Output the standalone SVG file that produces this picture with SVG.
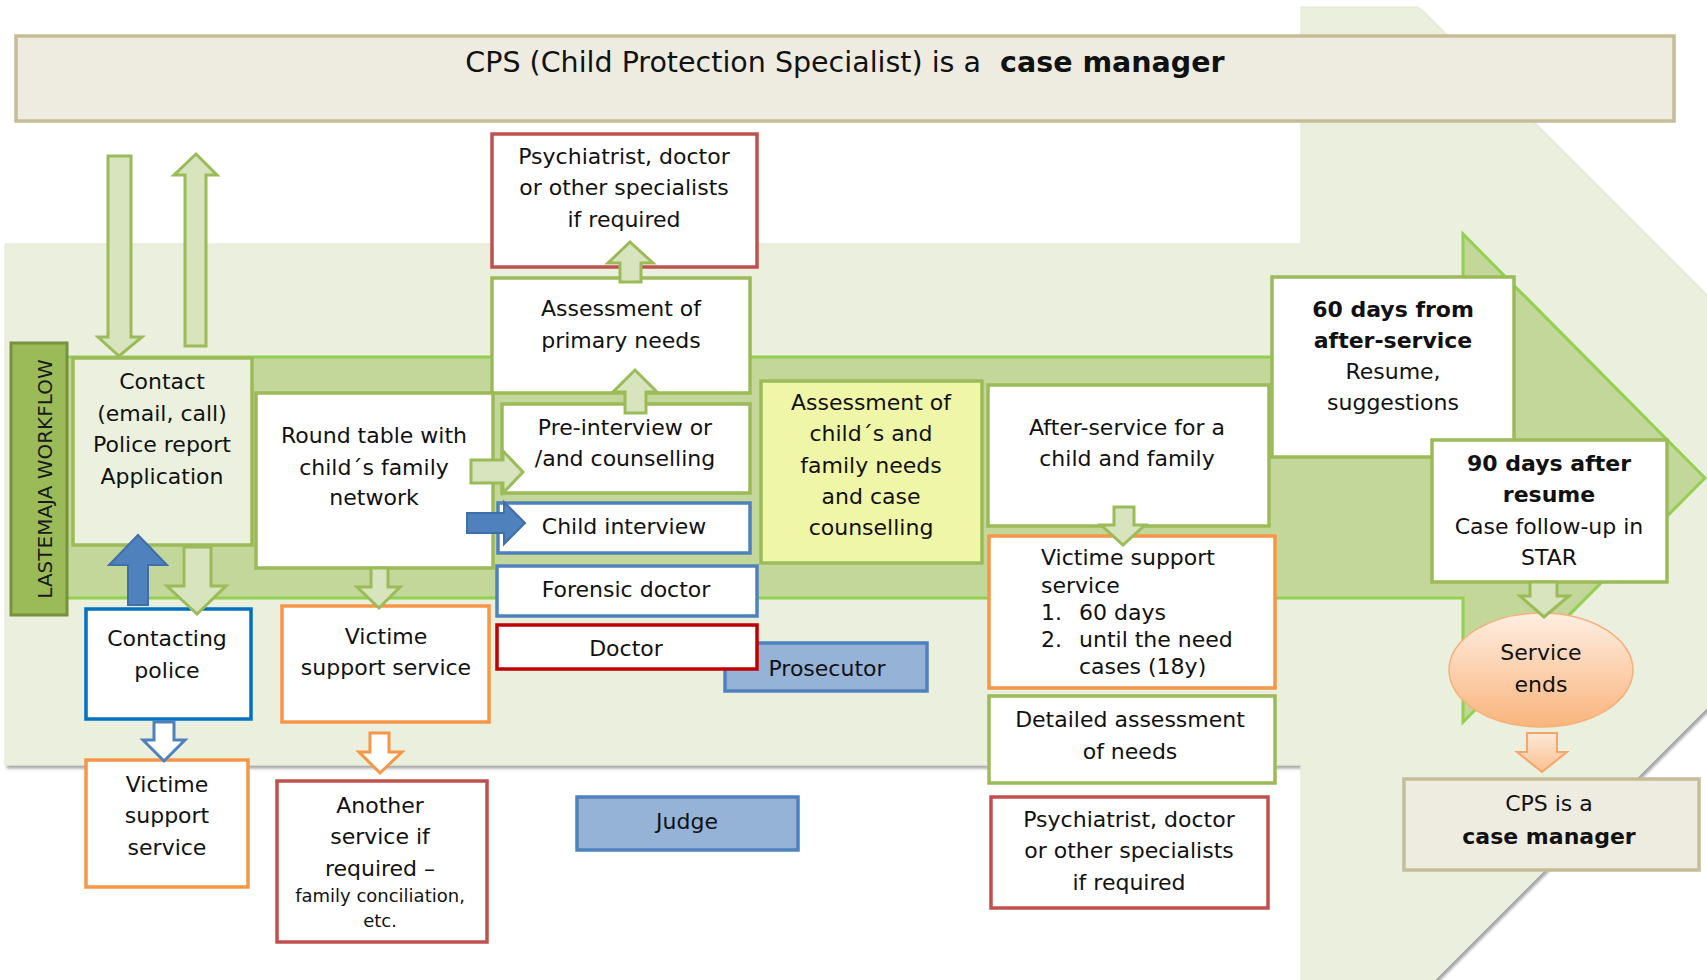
<svg xmlns="http://www.w3.org/2000/svg" width="1707" height="980" viewBox="0 0 1707 980">
<style>
.t{font-family:"DejaVu Sans",Verdana,sans-serif;font-size:22px;fill:#111;text-anchor:middle}
.l{text-anchor:start}
.bd{font-weight:bold}
.sm{font-size:18px}
.box{fill:#fff;stroke-width:3.5}
.g{stroke:#9BBB59}
.o{stroke:#F79646}
.r{stroke:#C0504D}
.dr{stroke:#C00000}
.bl{stroke:#4F81BD}
.cb{stroke:#0070C0}
.pl{fill:#95B3D7;stroke:#4F81BD;stroke-width:3.5}
.arG{fill:#D7E4BD;stroke:#9BBB59;stroke-width:3;stroke-linejoin:miter}
.arB{fill:#4F81BD;stroke:#3F6EA8;stroke-width:2}
.arBo{fill:#fff;stroke:#4F81BD;stroke-width:3}
.arO{fill:#fff;stroke:#F79646;stroke-width:3}
</style>
<defs>
<filter id="sh" x="-5%" y="-5%" width="110%" height="110%">
<feDropShadow dx="2" dy="3" stdDeviation="1.5" flood-color="#000" flood-opacity="0.35"/>
</filter>
<linearGradient id="og" x1="0" y1="0" x2="0" y2="1">
<stop offset="0" stop-color="#FEEEE2"/>
<stop offset="1" stop-color="#F9B47C"/>
</linearGradient>
<linearGradient id="og2" x1="0" y1="0" x2="0" y2="1">
<stop offset="0" stop-color="#FDE9D9"/>
<stop offset="1" stop-color="#FABF8F"/>
</linearGradient>
</defs>

<g id="background">
<polygon points="5,244 1301,244 1301,7 1418,7 1913,502 1430,985 1301,985 1301,765 5,765" fill="#EBEFDD" stroke="#E0E7CE" stroke-width="1" filter="url(#sh)"/>
<polygon points="30,357 1463,357 1463,234 1705,478 1463,722 1463,598 30,598" fill="#C4D79B" stroke="#92D050" stroke-width="3"/>
</g>

<g id="title">
<rect x="16" y="36" width="1658" height="85" fill="#EEECE1" stroke="#C4BD97" stroke-width="3.5"/>
<text class="t" x="845" y="72" style="font-size:28.5px">CPS (Child Protection Specialist) is a <tspan dx="10" font-weight="bold">case manager</tspan></text>
</g>

<g id="lastemaja">
<rect x="11" y="343" width="56" height="272" fill="#9BBB59" stroke="#76923C" stroke-width="3"/>
<text class="t" transform="translate(52,479) rotate(-90)" style="font-size:20px;fill:#1a1a1a">LASTEMAJA WORKFLOW</text>
</g>

<g id="psych-top">
<rect class="box r" x="492" y="134" width="265" height="133"/>
<text class="t" x="624" y="164">Psychiatrist, doctor</text>
<text class="t" x="624" y="195">or other specialists</text>
<text class="t" x="624" y="227">if required</text>
</g>

<g id="assessment-primary">
<rect class="box g" x="492" y="278" width="258" height="115"/>
<text class="t" x="621" y="316">Assessment of</text>
<text class="t" x="621" y="348">primary needs</text>
</g>

<g id="contact">
<rect x="73" y="358" width="179" height="187" fill="#EBF1DE" stroke="#9BBB59" stroke-width="3.5"/>
<text class="t" x="162" y="389">Contact</text>
<text class="t" x="162" y="421">(email, call)</text>
<text class="t" x="162" y="452">Police report</text>
<text class="t" x="162" y="484">Application</text>
</g>

<g id="round-table">
<rect class="box g" x="256" y="393" width="237" height="175"/>
<text class="t" x="374" y="443">Round table with</text>
<text class="t" x="374" y="475">child´s family</text>
<text class="t" x="374" y="505">network</text>
</g>

<g id="pre-interview">
<rect class="box g" x="502" y="404" width="248" height="89"/>
<text class="t" x="625" y="435">Pre-interview or</text>
<text class="t" x="625" y="466">/and counselling</text>
</g>

<g id="child-interview">
<rect class="box bl" x="498" y="503" width="252" height="50"/>
<text class="t" x="624" y="534">Child interview</text>
</g>

<g id="forensic-doctor">
<rect class="box bl" x="497" y="566" width="260" height="50"/>
<text class="t" x="626" y="597">Forensic doctor</text>
</g>

<g id="prosecutor">
<rect class="pl" x="725" y="643" width="202" height="48"/>
<text class="t" x="827" y="676">Prosecutor</text>
</g>

<g id="doctor">
<rect class="box dr" x="497" y="625" width="260" height="44"/>
<text class="t" x="626" y="656">Doctor</text>
</g>

<g id="assessment-family">
<rect x="761" y="381" width="221" height="182" fill="#F0F6A8" stroke="#9BBB59" stroke-width="3.5"/>
<text class="t" x="871" y="410">Assessment of</text>
<text class="t" x="871" y="441">child´s and</text>
<text class="t" x="871" y="473">family needs</text>
<text class="t" x="871" y="504">and case</text>
<text class="t" x="871" y="535">counselling</text>
</g>

<g id="after-service">
<rect class="box g" x="988" y="385" width="281" height="141"/>
<text class="t" x="1127" y="435">After-service for a</text>
<text class="t" x="1127" y="466">child and family</text>
</g>

<g id="victime-right">
<rect class="box o" x="989" y="536" width="286" height="152"/>
<text class="t l" x="1041" y="565">Victime support</text>
<text class="t l" x="1041" y="593">service</text>
<text class="t l" x="1041" y="620">1.</text>
<text class="t l" x="1079" y="620">60 days</text>
<text class="t l" x="1041" y="647">2.</text>
<text class="t l" x="1079" y="647">until the need</text>
<text class="t l" x="1079" y="674">cases (18y)</text>
</g>

<g id="detailed-assessment">
<rect class="box g" x="989" y="696" width="286" height="87"/>
<text class="t" x="1130" y="727">Detailed assessment</text>
<text class="t" x="1130" y="759">of needs</text>
</g>

<g id="psych-bottom">
<rect class="box r" x="991" y="797" width="277" height="111"/>
<text class="t" x="1129" y="827">Psychiatrist, doctor</text>
<text class="t" x="1129" y="858">or other specialists</text>
<text class="t" x="1129" y="890">if required</text>
</g>

<g id="sixty-days">
<rect class="box g" x="1272" y="277" width="242" height="180"/>
<text class="t bd" x="1393" y="317">60 days from</text>
<text class="t bd" x="1393" y="348">after-service</text>
<text class="t" x="1393" y="379">Resume,</text>
<text class="t" x="1393" y="410">suggestions</text>
</g>

<g id="ninety-days">
<rect class="box g" x="1432" y="440" width="235" height="142"/>
<text class="t bd" x="1549" y="471">90 days after</text>
<text class="t bd" x="1549" y="502">resume</text>
<text class="t" x="1549" y="534">Case follow-up in</text>
<text class="t" x="1549" y="565">STAR</text>
</g>

<g id="service-ends">
<ellipse cx="1541" cy="670" rx="92" ry="57" fill="url(#og)" stroke="#F7B07A" stroke-width="1.5"/>
<text class="t" x="1541" y="660">Service</text>
<text class="t" x="1541" y="692">ends</text>
</g>

<g id="cps-manager">
<rect x="1404" y="779" width="295" height="91" fill="#EEECE1" stroke="#C4BD97" stroke-width="3.5"/>
<text class="t" x="1549" y="811">CPS is a</text>
<text class="t bd" x="1549" y="844">case manager</text>
</g>

<g id="contacting-police">
<rect class="box cb" x="86" y="609" width="165" height="110"/>
<text class="t" x="167" y="646">Contacting</text>
<text class="t" x="167" y="678">police</text>
</g>

<g id="victime-mid">
<rect class="box o" x="282" y="606" width="207" height="116"/>
<text class="t" x="386" y="644">Victime</text>
<text class="t" x="386" y="675">support service</text>
</g>

<g id="victime-low">
<rect class="box o" x="86" y="760" width="162" height="127"/>
<text class="t" x="167" y="792">Victime</text>
<text class="t" x="167" y="823">support</text>
<text class="t" x="167" y="855">service</text>
</g>

<g id="another-service">
<rect class="box r" x="277" y="781" width="210" height="161"/>
<text class="t" x="380" y="813">Another</text>
<text class="t" x="380" y="844">service if</text>
<text class="t" x="380" y="876">required –</text>
<text class="t sm" x="380" y="902">family conciliation,</text>
<text class="t sm" x="380" y="927">etc.</text>
</g>

<g id="judge">
<rect class="pl" x="577" y="797" width="221" height="53"/>
<text class="t" x="687" y="829">Judge</text>
</g>

<g id="connectors">
<polygon class="arG" points="108,156 131,156 131,337 142,337 119,356 98,337 108,337"/>
<polygon class="arG" points="185,346 206,346 206,175 217,175 196,154 174,175 185,175"/>
<polygon class="arG" points="620,282 641,282 641,263 653,263 630,242 608,263 620,263"/>
<polygon class="arG" points="625,413 646,413 646,392 657,392 635,370 613,392 625,392"/>
<polygon class="arG" points="471,460 503,460 503,451 523,472 503,493 503,483 471,483"/>
<polygon class="arB" points="467,513 504,513 504,502 525,523 504,544 504,533 467,533"/>
<polygon class="arB" points="128,605 148,605 148,565 167,565 138,535 109,565 128,565"/>
<polygon class="arG" points="184,547 211,547 211,586 226,586 197,614 167,586 184,586"/>
<polygon class="arG" points="371,568 388,568 388,587 400,587 379,608 357,587 371,587"/>
<polygon class="arBo" points="154,722 174,722 174,740 185,740 164,761 143,740 154,740"/>
<polygon class="arO" points="370,733 389,733 389,752 402,752 380,773 359,752 370,752"/>
<polygon class="arG" points="1114,507 1134,507 1134,525 1145,525 1123,545 1101,525 1114,525"/>
<polygon class="arG" points="1530,582 1557,582 1557,596 1569,596 1544,617 1520,596 1530,596"/>
<polygon points="1527,733 1557,733 1557,752 1567,752 1542,772 1517,752 1527,752" fill="url(#og2)" stroke="#F5A56A" stroke-width="2"/>
</g>
</svg>
